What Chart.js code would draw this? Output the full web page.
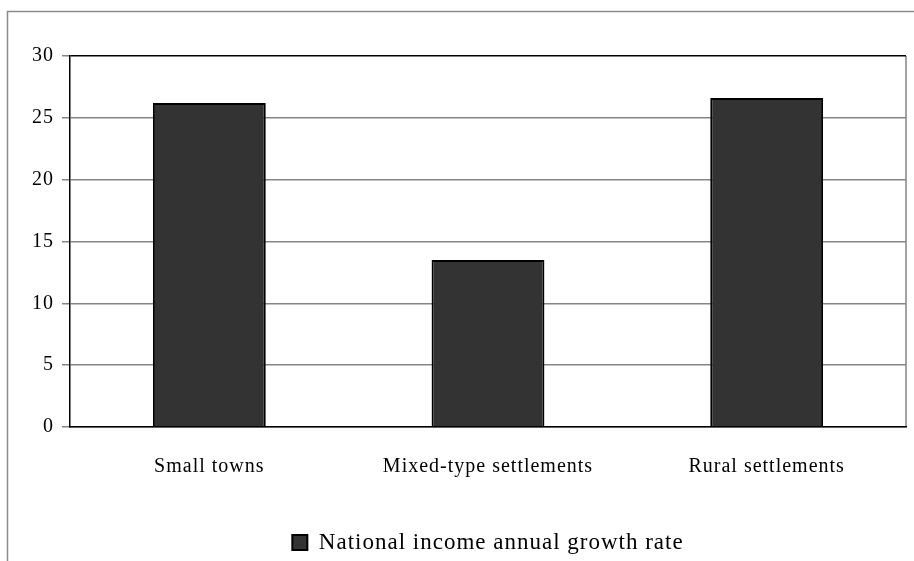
<!DOCTYPE html>
<html lang="en">
<head>
<meta charset="UTF-8">
<title>National income annual growth rate</title>
<script src="https://cdn.jsdelivr.net/npm/chart.js"></script>
<style>
    html, body { margin: 0; padding: 0; background: #fff; }
    #wrap { position: relative; width: 914px; height: 561px; }
</style>
</head>
<body>
<div id="wrap">
    <canvas id="growthChart" width="914" height="561"></canvas>
</div>
<script>
    const categories = ['Small towns', 'Mixed-type settlements', 'Rural settlements'];
    const growthRate = [26.2, 13.5, 26.6];
    const seriesName = 'National income annual growth rate';
    const yTicks = [0, 5, 10, 15, 20, 25, 30];

    const serif = "'Liberation Serif', 'Times New Roman', serif";
    const grey = '#858585';

    // the labels in this chart are set a little loose
    const spacing = {
        id: 'spacing',
        beforeLayout(chart) { chart.ctx.letterSpacing = '1px'; },
        beforeDraw(chart) { chart.ctx.letterSpacing = '1px'; }
    };

    // outer frame (left + top) and the grey right edge of the plot
    const frame = {
        id: 'frame',
        beforeDraw(chart) {
            const ctx = chart.ctx;
            const a = chart.chartArea;
            ctx.save();
            ctx.strokeStyle = '#8a8a8a';
            ctx.lineWidth = 1.5;
            ctx.beginPath();
            ctx.moveTo(7.5, chart.height);
            ctx.lineTo(7.5, 11.5);
            ctx.lineTo(chart.width, 11.5);
            ctx.stroke();
            ctx.strokeStyle = grey;
            ctx.beginPath();
            ctx.moveTo(a.right, a.top);
            ctx.lineTo(a.right, a.bottom);
            ctx.stroke();
            ctx.restore();
        }
    };

    new Chart(document.getElementById('growthChart'), {
        type: 'bar',
        data: {
            labels: categories,
            datasets: [{
                label: seriesName,
                data: growthRate,
                backgroundColor: '#333333',
                borderColor: '#000000',
                borderWidth: 2,
                barPercentage: 0.405,
                categoryPercentage: 1
            }]
        },
        options: {
            responsive: false,
            animation: false,
            // legend sits low, partly into the bottom margin
            layout: { padding: { top: 56, right: 8, left: 0, bottom: -3 } },
            plugins: {
                tooltip: { enabled: false },
                legend: {
                    position: 'bottom',
                    fullSize: false,
                    labels: {
                        color: '#000',
                        font: { family: serif, size: 23 },
                        boxWidth: 15,
                        boxHeight: 15,
                        padding: 3
                    }
                }
            },
            scales: {
                x: {
                    grid: { display: false, drawTicks: false },
                    border: { color: '#000', width: 1.5 },
                    ticks: {
                        color: '#000',
                        font: { family: serif, size: 20 },
                        padding: 28,
                        maxRotation: 0
                    },
                    afterFit(scale) { scale.height = 101; }
                },
                y: {
                    min: 0,
                    max: 30,
                    afterBuildTicks(scale) {
                        scale.ticks = yTicks.map(v => ({ value: v }));
                    },
                    grid: {
                        color: ctx => ctx.tick && ctx.tick.value === 30 ? '#000' : grey,
                        tickColor: grey,
                        lineWidth: 1.5,
                        tickLength: 8
                    },
                    border: { color: '#000', width: 1.5 },
                    ticks: {
                        color: '#000',
                        font: { family: serif, size: 20 },
                        padding: 8
                    },
                    afterFit(scale) { scale.width = 70; }
                }
            }
        },
        plugins: [spacing, frame]
    });
</script>
</body>
</html>
